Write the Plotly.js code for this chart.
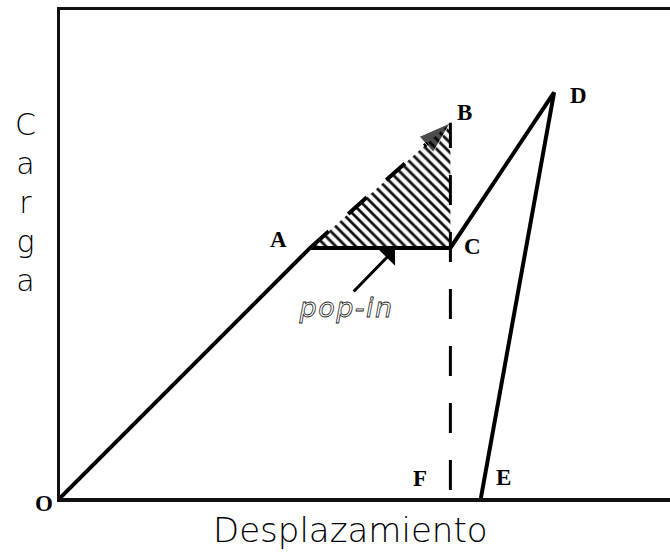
<!DOCTYPE html>
<html>
<head>
<meta charset="utf-8">
<script src="https://cdn.plot.ly/plotly-3.0.1.min.js"></script>
<style>
  html, body { margin: 0; padding: 0; background: #fff; }
  #chart { width: 670px; height: 552px; }
  /* hollow italic lettering for the pop-in note */
  .annotation[data-index="7"] .annotation-text {
    fill: #fff !important;
    stroke: #222;
    stroke-width: 0.8px;
    letter-spacing: 1.5px;
  }
</style>
</head>
<body>
<div id="chart"></div>
<script>
// Load–displacement curve: O → A → C → D → E (loading, pop-in, reload, unload)
const pathNames = ['O', 'A', 'C', 'D', 'E'];
const pathX = [0, 4.1, 6.4, 8.1, 6.9];
const pathY = [0, 4.1, 4.1, 6.65, 0];

// Pop-in triangle A–B–C (hatched area)
const triX = [4.1, 6.4, 6.4];
const triY = [4.1, 6.15, 4.1];

// Extrapolated loading A → B (dashed, arrow at B)
const extX = [4.1, 6.4];
const extY = [4.1, 6.15];

// Vertical guide F → B
const guideX = [6.4, 6.4];
const guideY = [0.13, 6.15];

// Point letters and where they sit
const labelText = ['O', 'A', 'B', 'C', 'D', 'E', 'F'];
const labelX = [0, 4.1, 6.4, 6.4, 8.1, 6.9, 6.4];
const labelY = [0, 4.1, 6.15, 4.1, 6.65, 0, 0];

// Pop-in arrow: tip on the plateau, tail above the note
const popTip = [5.49, 4.08];
const popTail = [4.79, 3.36];

const serif = 'Liberation Serif, Times New Roman, serif';
const sans = 'DejaVu Sans, Verdana, sans-serif';

const labelShift = {
  O: [-16, -5], A: [-32, 8], B: [14, 10], C: [22, 1],
  D: [24, -3], E: [23, 21], F: [-30, 20]
};

const traces = [
  {
    x: triX, y: triY, type: 'scatter', mode: 'none',
    fill: 'toself', fillcolor: 'white',
    fillpattern: { shape: '\\', size: 7, solidity: 0.4, fgcolor: '#111', bgcolor: 'white' },
    hoverinfo: 'skip', showlegend: false
  },
  {
    x: extX, y: extY, type: 'scatter', mode: 'lines+markers',
    line: { color: '#000', width: 4, dash: '25px,26px' },
    marker: { symbol: 'arrow', size: [0, 34], color: '#000', angleref: 'previous' },
    hoverinfo: 'skip', showlegend: false
  },
  {
    x: guideX, y: guideY, type: 'scatter', mode: 'lines',
    line: { color: '#000', width: 3, dash: '30px,27px' },
    hoverinfo: 'skip', showlegend: false
  },
  {
    x: pathX, y: pathY, text: pathNames, type: 'scatter', mode: 'lines',
    line: { color: '#000', width: 4 },
    hoverinfo: 'text', showlegend: false
  }
];

const annotations = labelText.map((t, i) => ({
  x: labelX[i], y: labelY[i], xref: 'x', yref: 'y',
  text: '<b>' + t + '</b>', showarrow: false,
  xshift: labelShift[t][0], yshift: labelShift[t][1],
  font: { family: serif, size: 23, color: '#000' }
}));

// pop-in note (index 7) and its arrow (index 8)
annotations.push({
  x: popTail[0], y: popTail[1], xref: 'x', yref: 'y',
  text: '<i>pop-in</i>', showarrow: false,
  xshift: -6, yshift: -14,
  font: { family: sans, size: 27, color: '#000' }
});
annotations.push({
  x: popTip[0], y: popTip[1], xref: 'x', yref: 'y',
  ax: popTail[0], ay: popTail[1], axref: 'x', ayref: 'y',
  text: '', showarrow: true,
  arrowhead: 1, arrowsize: 1.3, arrowwidth: 3, arrowcolor: '#000'
});

// stacked vertical axis title
annotations.push({
  x: -0.057, y: 0.605, xref: 'paper', yref: 'paper',
  xanchor: 'center', yanchor: 'middle',
  text: 'C<br>a<br>r<br>g<br>a', showarrow: false,
  font: { family: sans, size: 30, color: '#000', weight: 200 }
});

// horizontal axis title
annotations.push({
  x: 0.477, y: -0.066, xref: 'paper', yref: 'paper',
  xanchor: 'center', yanchor: 'middle',
  text: 'Desplazamiento', showarrow: false,
  font: { family: sans, size: 34, color: '#000', weight: 200 }
});

const layout = {
  width: 670, height: 552,
  margin: { l: 60, r: 0, t: 10, b: 54, pad: 0 },
  paper_bgcolor: '#fff', plot_bgcolor: '#fff',
  xaxis: {
    range: [0, 10], showgrid: false, zeroline: false,
    showticklabels: false, ticks: '',
    showline: true, linecolor: '#111', linewidth: 3.5, mirror: true
  },
  yaxis: {
    range: [0, 8], showgrid: false, zeroline: false,
    showticklabels: false, ticks: '',
    showline: true, linecolor: '#111', linewidth: 3.5, mirror: false
  },
  annotations: annotations,
  showlegend: false
};

Plotly.newPlot('chart', traces, layout, { displayModeBar: false, staticPlot: true });
</script>
</body>
</html>
